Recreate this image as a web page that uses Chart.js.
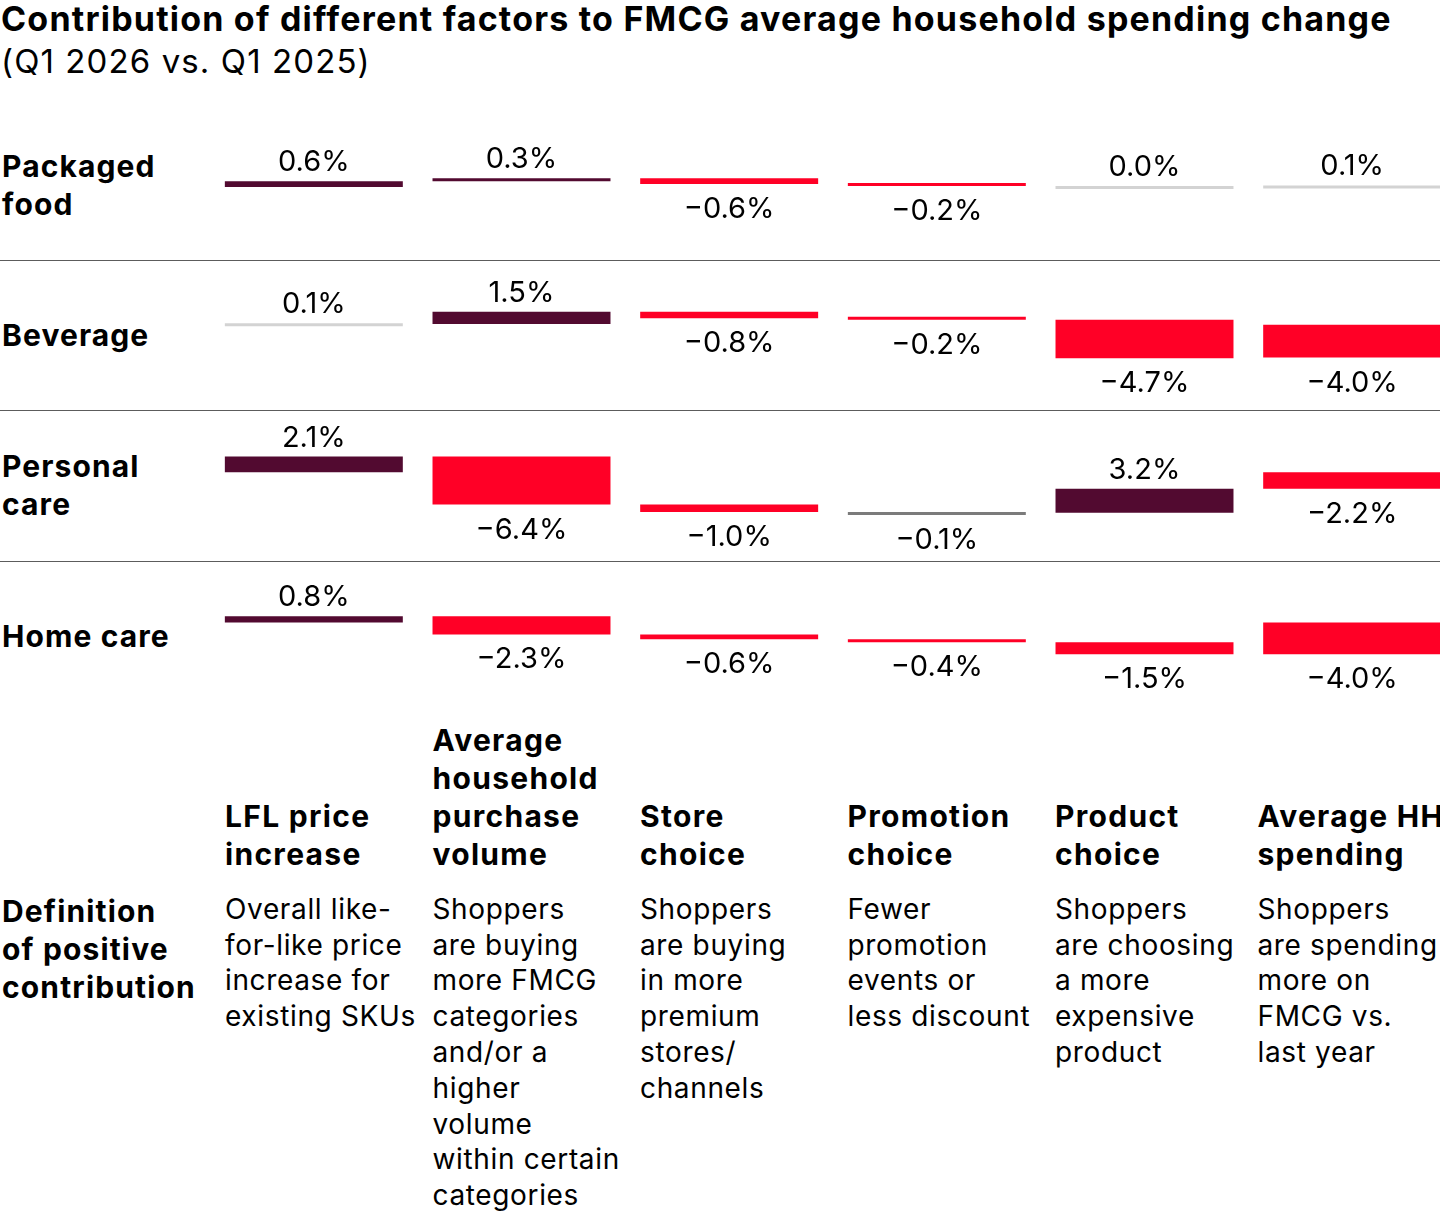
<!DOCTYPE html>
<html>
<head>
<meta charset="utf-8">
<script src="https://cdn.jsdelivr.net/npm/chart.js@4.4.1/dist/chart.umd.min.js"></script>
<style>
  html, body {
    margin: 0;
    padding: 0;
    background: #fff;
  }
  body {
    width: 1440px;
    height: 1215px;
    overflow: hidden;
    position: relative;
    font-family: "Inter", "Noto Sans", sans-serif;
    color: #000;
  }
  .title {
    position: absolute;
    left: 1px;
    top: -1.7px;
    font-size: 34px;
    font-weight: 700;
    line-height: 42px;
    letter-spacing: 1.2px;
    white-space: nowrap;
  }
  .subtitle {
    position: absolute;
    left: 1px;
    top: 40px;
    font-size: 33px;
    line-height: 42px;
    letter-spacing: 1.1px;
    white-space: nowrap;
  }
  .row {
    position: absolute;
    left: 0;
    width: 1440px;
    height: 150px;
  }
  .row-label {
    position: absolute;
    left: 2px;
    top: 0;
    height: 150px;
    display: flex;
    align-items: center;
    font-size: 30px;
    font-weight: 700;
    line-height: 38px;
    letter-spacing: 1.1px;
    white-space: nowrap;
  }
  .row canvas {
    position: absolute;
    left: 209.6px;
    top: 0;
  }
  .sep {
    position: absolute;
    left: 0;
    width: 1440px;
    height: 1.5px;
    background: #5c5c5c;
  }
  .head {
    position: absolute;
    bottom: 342px;
    font-size: 30px;
    font-weight: 700;
    line-height: 38px;
    letter-spacing: 1.3px;
    white-space: nowrap;
  }
  .defn {
    position: absolute;
    top: 891.8px;
    font-size: 28px;
    line-height: 35.8px;
    letter-spacing: 0.65px;
    white-space: nowrap;
  }
  .defn-label {
    position: absolute;
    left: 2px;
    top: 891.8px;
    font-size: 30px;
    font-weight: 700;
    line-height: 38px;
    letter-spacing: 1.15px;
    white-space: nowrap;
  }
</style>
</head>
<body>
<div class="title">Contribution of different factors to FMCG average household spending change</div>
<div class="subtitle">(Q1 2026 vs. Q1 2025)</div>
<div id="rows"></div>
<div id="heads"></div>
<div class="defn-label">Definition<br>of positive<br>contribution</div>
<div id="defs"></div>

<script>
// factors (columns)
const factors = [
  "LFL price increase",
  "Average household purchase volume",
  "Store choice",
  "Promotion choice",
  "Product choice",
  "Average HH spending",
];
const factorHeads = [
  ["LFL price", "increase"],
  ["Average", "household", "purchase", "volume"],
  ["Store", "choice"],
  ["Promotion", "choice"],
  ["Product", "choice"],
  ["Average HH", "spending"],
];
const factorDefs = [
  ["Overall like-", "for-like price", "increase for", "existing SKUs"],
  ["Shoppers", "are buying", "more FMCG", "categories", "and/or a", "higher", "volume", "within certain", "categories"],
  ["Shoppers", "are buying", "in more", "premium", "stores/", "channels"],
  ["Fewer", "promotion", "events or", "less discount"],
  ["Shoppers", "are choosing", "a more", "expensive", "product"],
  ["Shoppers", "are spending", "more on", "FMCG vs.", "last year"],
];

// categories (rows)
const categories = [["Packaged", "food"], ["Beverage"], ["Personal", "care"], ["Home care"]];

// contribution values, % (last one is the total)
const packagedFood = [0.6, 0.3, -0.6, -0.2, 0.0, 0.1];
const beverage = [0.1, 1.5, -0.8, -0.2, -4.7, -4.0];
const personalCare = [2.1, -6.4, -1.0, -0.1, 3.2, -2.2];
const homeCare = [0.8, -2.3, -0.6, -0.4, -1.5, -4.0];
const rowValues = [packagedFood, beverage, personalCare, homeCare];

// y axis range per row
const yMax = [8.1, 7.9, 8.3, 7.8];
const yMin = [-7.7, -10.4, -11.7, -11.2];

const PURPLE = "#520a30";
const RED = "#ff0026";
const LIGHT_GREY = "#d3d3d3";
const DARK_GREY = "#7b7b7b";
const FONT = '"Inter", "Noto Sans", sans-serif';

const textLeft = [225, 432.5, 640, 847.5, 1055, 1257.5];
const rowTop = [110, 260, 410, 561];

function barColor(v) {
  if (v > 0.1) return PURPLE;
  if (v < -0.1) return RED;
  if (v >= 0) return LIGHT_GREY;
  return DARK_GREY;
}

function fmt(v) {
  const s = Math.abs(v).toFixed(1) + "%";
  return v < 0 ? "\u2212" + s : s;
}

// waterfall: each factor floats from the running total, the last bar starts at 0
function waterfall(values) {
  const out = [];
  let run = 0;
  values.forEach((v, i) => {
    if (i === values.length - 1) {
      out.push([0, v]);
    } else {
      out.push([run, run + v]);
      run += v;
    }
  });
  return out;
}

const valueLabels = {
  id: "valueLabels",
  afterDatasetsDraw(chart) {
    const ctx = chart.ctx;
    const vals = chart.data.datasets[0].values;
    const meta = chart.getDatasetMeta(0);
    ctx.save();
    ctx.font = "400 29px " + FONT;
    ctx.fillStyle = "#000";
    ctx.textAlign = "center";
    ctx.textBaseline = "alphabetic";
    meta.data.forEach((bar, i) => {
      const v = vals[i];
      const top = Math.min(bar.y, bar.base);
      const bottom = Math.max(bar.y, bar.base);
      if (v >= 0) {
        ctx.fillText(fmt(v), bar.x, top - 10);
      } else {
        ctx.fillText(fmt(v), bar.x, bottom + 34);
      }
    });
    ctx.restore();
  },
};

const rowsEl = document.getElementById("rows");
categories.forEach((cat, r) => {
  const row = document.createElement("div");
  row.className = "row";
  row.style.top = rowTop[r] + "px";
  row.innerHTML = '<div class="row-label"><div>' + cat.join("<br>") + "</div></div>";
  const canvas = document.createElement("canvas");
  canvas.width = 1246;
  canvas.height = 150;
  canvas.style.width = "1246px";
  canvas.style.height = "150px";
  row.appendChild(canvas);
  rowsEl.appendChild(row);

  if (r > 0) {
    const sep = document.createElement("div");
    sep.className = "sep";
    sep.style.top = rowTop[r] - 0.5 + "px";
    rowsEl.appendChild(sep);
  }

  const values = rowValues[r];
  new Chart(canvas.getContext("2d"), {
    type: "bar",
    data: {
      labels: factors,
      datasets: [
        {
          data: waterfall(values),
          values: values,
          backgroundColor: values.map(barColor),
          borderWidth: 0,
          barPercentage: 0.857,
          categoryPercentage: 1,
          minBarLength: 3,
        },
      ],
    },
    options: {
      responsive: false,
      maintainAspectRatio: false,
      animation: false,
      layout: { padding: 0 },
      plugins: {
        legend: { display: false },
        tooltip: { enabled: false },
      },
      scales: {
        x: { display: false },
        y: { display: false, min: yMin[r], max: yMax[r] },
      },
    },
    plugins: [valueLabels],
  });
});

const headsEl = document.getElementById("heads");
const defsEl = document.getElementById("defs");
factorHeads.forEach((lines, c) => {
  const h = document.createElement("div");
  h.className = "head";
  h.style.left = textLeft[c] + "px";
  h.innerHTML = lines.join("<br>");
  headsEl.appendChild(h);

  const d = document.createElement("div");
  d.className = "defn";
  d.style.left = textLeft[c] + "px";
  d.innerHTML = factorDefs[c].join("<br>");
  defsEl.appendChild(d);
});
</script>
</body>
</html>
